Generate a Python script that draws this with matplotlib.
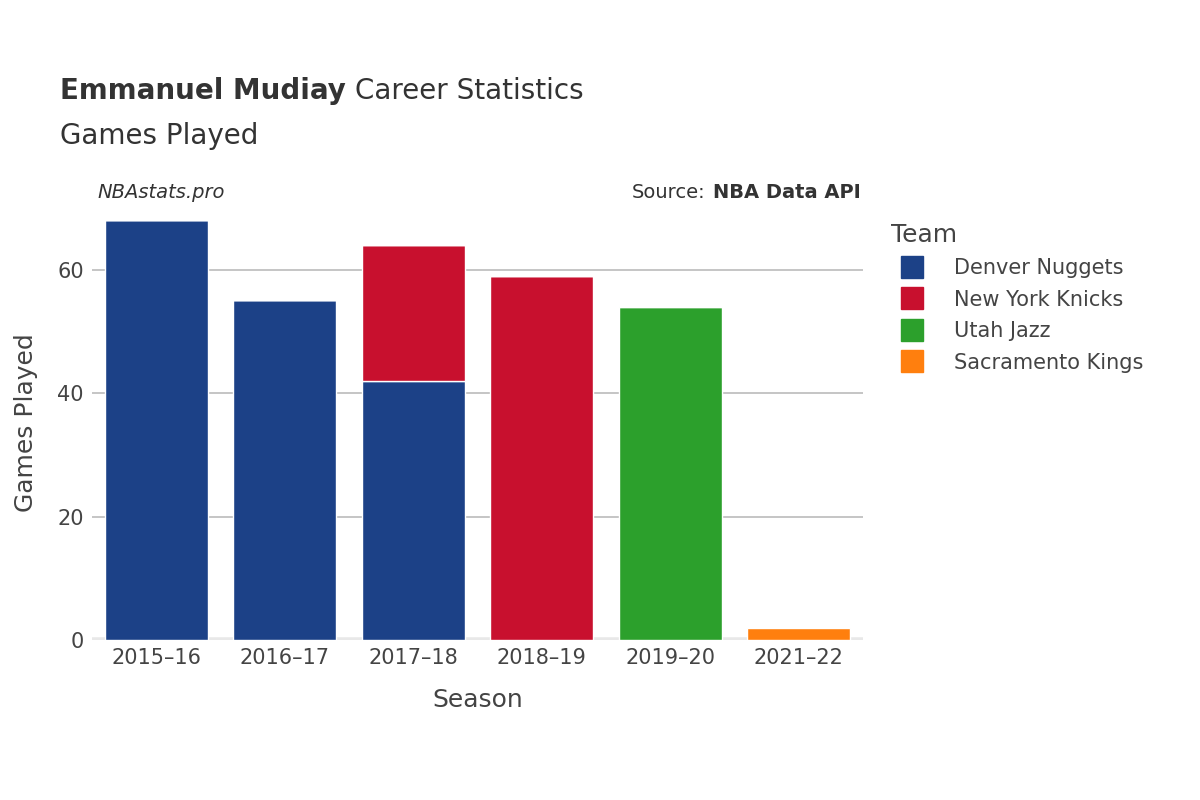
import matplotlib
matplotlib.use("Agg")
import matplotlib.pyplot as plt
from matplotlib.lines import Line2D

seasons = ["2015–16", "2016–17", "2017–18", "2018–19", "2019–20", "2021–22"]
teams = ["Denver Nuggets", "New York Knicks", "Utah Jazz", "Sacramento Kings"]
colors = ["#1c4187", "#c8102e", "#2ca02c", "#ff7f0e"]
games = {
    "Denver Nuggets":   [68, 55, 42, 0, 0, 0],
    "New York Knicks":  [0, 0, 22, 59, 0, 0],
    "Utah Jazz":        [0, 0, 0, 0, 54, 0],
    "Sacramento Kings": [0, 0, 0, 0, 0, 2],
}

plt.rcParams["font.family"] = "DejaVu Sans"
fig = plt.figure(figsize=(12, 8), dpi=100)
ax = fig.add_axes([0.0767, 0.2, 0.6425, 0.544])
x = list(range(len(seasons)))
bottom = [0]*len(seasons)
for t, c in zip(teams, colors):
    v = games[t]
    ax.bar(x, v, bottom=bottom, width=0.8, color=c, edgecolor="white", linewidth=1, zorder=3)
    bottom = [b+vv for b, vv in zip(bottom, v)]

ax.set_xlim(-0.5, len(seasons)-0.5)
ax.set_ylim(0, 70.5)
ax.set_yticks([0, 20, 40, 60])
ax.set_xticks(x)
ax.set_xticklabels(seasons)
ax.tick_params(length=0, labelsize=15, colors="#444444", pad=6)
ax.grid(axis="y", color="#bbbbbb", linewidth=1.2, zorder=0)
ax.axhline(0, color="#e8e8e8", linewidth=4, zorder=2)
for s in ax.spines.values():
    s.set_visible(False)
ax.set_xlabel("Season", fontsize=18, color="#444444", labelpad=14)
ax.set_ylabel("Games Played", fontsize=18, color="#444444", labelpad=14)

t1 = fig.text(0.05, 0.876, "Emmanuel Mudiay", fontsize=20, fontweight="bold", color="#333333", va="baseline")
fig.canvas.draw()
bb = t1.get_window_extent()
fig.text(bb.x1/1200 + 0.008, 0.876, "Career Statistics", fontsize=20, color="#333333", va="baseline")
fig.text(0.05, 0.82, "Games Played", fontsize=20, color="#333333", va="baseline")
fig.text(0.081, 0.752, "NBAstats.pro", fontsize=14, style="italic", color="#333333", va="baseline")
t2 = fig.text(0.717, 0.752, "NBA Data API", fontsize=14, fontweight="bold", color="#333333", va="baseline", ha="right")
fig.canvas.draw()
bb2 = t2.get_window_extent()
fig.text(bb2.x0/1200 - 0.006, 0.752, "Source:", fontsize=14, color="#333333", va="baseline", ha="right")

handles = [Line2D([], [], marker="s", linestyle="", markersize=16, markerfacecolor=c, markeredgecolor=c) for c in colors]
leg = fig.legend(handles, teams, loc="upper left", bbox_to_anchor=(0.727, 0.745), frameon=False,
                 fontsize=15, title="Team", title_fontsize=18, labelspacing=0.55, handletextpad=1.0,
                 alignment="left", labelcolor="#444444")
leg.get_title().set_color("#444444")
fig.savefig("out.png", dpi=100)
